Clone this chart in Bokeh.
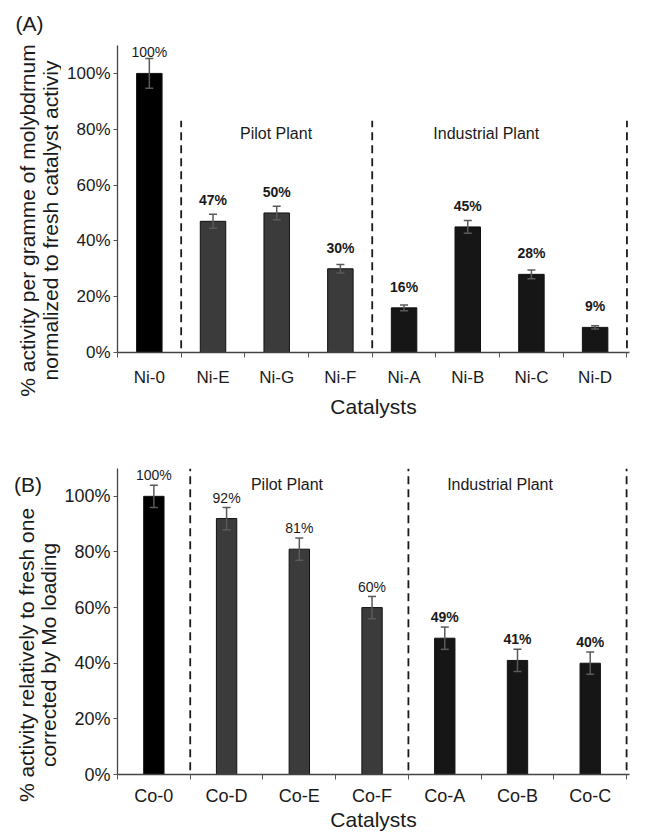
import math

from bokeh.plotting import figure
from bokeh.models import (Range1d, FixedTicker, Whisker, TeeHead,
                          ColumnDataSource, Label)
from bokeh.layouts import column, row
from bokeh.embed import file_html
from bokeh.resources import INLINE
from bokeh.core.properties import value

FONT = "Liberation Sans"
INK = "#1a1a1a"

# ---- (A) Ni catalysts: activity per gramme of Mo, relative to fresh ----
ni_names = ["Ni-0", "Ni-E", "Ni-G", "Ni-F", "Ni-A", "Ni-B", "Ni-C", "Ni-D"]
ni_activity = [100, 47, 50, 30, 16, 45, 28, 9]
ni_error = [5.3, 2.5, 2.4, 1.5, 1.0, 2.3, 1.6, 0.6]
ni_group = ["fresh", "pilot", "pilot", "pilot",
            "industrial", "industrial", "industrial", "industrial"]

# ---- (B) Co catalysts: activity corrected by Mo loading ----
co_names = ["Co-0", "Co-D", "Co-E", "Co-F", "Co-A", "Co-B", "Co-C"]
co_activity = [100, 92, 81, 60, 49, 41, 40]
co_error = [4, 4, 4, 4, 4, 4, 4]
co_group = ["fresh", "pilot", "pilot", "pilot",
            "industrial", "industrial", "industrial"]

pct_ticks = [0, 20, 40, 60, 80, 100]
pct_labels = ["0%", "20%", "40%", "60%", "80%", "100%"]

region_names = {"pilot": "Pilot Plant", "industrial": "Industrial Plant"}
group_colors = {"fresh": "#000000", "pilot": "#3b3b3b", "industrial": "#161616"}

Y_MAX = 110
X_PAD = 0.04     # small room past the last category so the end line shows
SIDE_W = 61      # strip on the left that holds the panel tags and y titles
TOTAL_W, TOTAL_H = 660, 833
H_A, H_B = 420, 413


def side_strip():
    """Label-only canvas for both panels; coordinates are page pixels."""
    s = figure(width=SIDE_W, height=TOTAL_H, output_backend="svg",
               toolbar_location=None, x_axis_location=None,
               y_axis_location=None, min_border=0,
               x_range=Range1d(0, SIDE_W), y_range=Range1d(TOTAL_H, 0))
    s.outline_line_color = None
    s.grid.visible = False

    def tag(text, x, y):
        s.add_layout(Label(x=x, y=y, text=text, text_font=FONT,
                           text_font_size="21px", text_color=INK,
                           text_align="center", text_baseline="middle"))

    def vtitle(text, x, y):
        s.add_layout(Label(x=x, y=y, text=text, angle=math.pi / 2,
                           text_font=FONT, text_font_size="21px",
                           text_color=INK, text_align="center",
                           text_baseline="middle"))

    tag("(A)", 29, 23)
    vtitle("% activity per gramme of molybdrnum", 27, 220)
    vtitle("normalized to fresh catalyst activiy", 50, 220)
    tag("(B)", 27.5, 484)
    vtitle("% activity relatively to fresh one", 25.5, 654.5)
    vtitle("corrected by Mo loading", 48, 654.5)
    return s


def bar_panel(names, vals, errs, groups, g):
    n = len(names)
    width = TOTAL_W - SIDE_W
    left = g["left"] - SIDE_W
    p = figure(width=width, height=g["height"], output_backend="svg",
               toolbar_location=None,
               x_range=Range1d(0, n + X_PAD), y_range=Range1d(0, Y_MAX),
               min_border_left=left, min_border_top=g["top"],
               min_border_right=max(width - left - g["fw"], 0),
               min_border_bottom=g["height"] - g["top"] - g["fh"])
    p.outline_line_color = None
    p.xgrid.visible = False
    p.ygrid.visible = False

    xs = [i + 0.5 for i in range(n)]
    src = ColumnDataSource(dict(
        x=xs, top=vals,
        upper=[v + e for v, e in zip(vals, errs)],
        lower=[v - e for v, e in zip(vals, errs)],
        color=[group_colors[gr] for gr in groups],
        label=[f"{v}%" for v in vals],
        style=["bold" if gr in g["bold_groups"] else "normal" for gr in groups],
    ))
    p.vbar(x="x", top="top", width=g["bar_w"], source=src,
           fill_color="color", line_color="#111111", line_width=1)

    whisker_color = "#5a5a5a"
    p.add_layout(Whisker(source=src, base="x", upper="upper", lower="lower",
                         line_color=whisker_color, line_width=1.5,
                         upper_head=TeeHead(size=8, line_color=whisker_color,
                                            line_width=1.5),
                         lower_head=TeeHead(size=8, line_color=whisker_color,
                                            line_width=1.5),
                         level="annotation"))

    # value labels sit a fixed distance above each bar
    p.text(x="x", y="top", text="label", source=src,
           text_font=value(FONT), text_font_size=value("14px"),
           text_font_style="style", text_color=INK,
           text_align="center", text_baseline="middle", y_offset=-21)

    # dashed separators between fresh / pilot / industrial groups
    bounds = [i for i in range(1, n) if groups[i] != groups[i - 1]] + [n]
    p.segment(x0=bounds, x1=bounds, y0=[1.5] * len(bounds),
              y1=[g["dash_top"]] * len(bounds),
              line_color=INK, line_width=1.8, line_dash="8 5")

    for key, (rx, ry) in g["region_pos"].items():
        p.add_layout(Label(x=rx, y=ry, text=region_names[key],
                           text_font=FONT, text_font_size="16px",
                           text_color=INK, text_align="center",
                           text_baseline="middle"))

    xa = p.xaxis[0]
    xa.ticker = FixedTicker(ticks=xs, minor_ticks=list(range(n + 1)))
    xa.major_label_overrides = {x: name for x, name in zip(xs, names)}
    xa.major_tick_out = 0
    xa.major_tick_in = 0
    xa.minor_tick_out = 5
    xa.minor_tick_in = 0
    xa.minor_tick_line_color = "#555555"
    xa.axis_line_color = "#444444"
    xa.axis_line_width = 1.3
    xa.major_label_text_font = FONT
    xa.major_label_text_font_size = g["tick_size"]
    xa.major_label_text_color = INK
    xa.major_label_standoff = g["x_standoff"]
    xa.axis_label = "Catalysts"
    xa.axis_label_text_font = FONT
    xa.axis_label_text_font_size = "21px"
    xa.axis_label_text_font_style = "normal"
    xa.axis_label_text_color = INK
    xa.axis_label_standoff = g["title_standoff"]

    ya = p.yaxis[0]
    ya.ticker = FixedTicker(ticks=pct_ticks, minor_ticks=[])
    ya.major_label_overrides = {t: s for t, s in zip(pct_ticks, pct_labels)}
    ya.major_tick_out = 4
    ya.major_tick_in = 0
    ya.major_tick_line_color = "#555555"
    ya.axis_line_color = "#444444"
    ya.axis_line_width = 1.3
    ya.major_label_text_font = FONT
    ya.major_label_text_font_size = g["tick_size"]
    ya.major_label_text_color = INK
    ya.major_label_standoff = 3
    return p


panel_a = bar_panel(ni_names, ni_activity, ni_error, ni_group, dict(
    height=H_A, left=113, top=45, fw=516, fh=317, bar_w=0.4,
    tick_size="17px", x_standoff=10, title_standoff=5, dash_top=83,
    bold_groups={"pilot", "industrial"},
    region_pos={"pilot": (2.49, 78.6), "industrial": (5.79, 78.6)},
))

panel_b = bar_panel(co_names, co_activity, co_error, co_group, dict(
    height=H_B, left=117, top=48, fw=543, fh=316, bar_w=0.28,
    tick_size="18px", x_standoff=6, title_standoff=-1, dash_top=110,
    bold_groups={"industrial"},
    region_pos={"pilot": (2.33, 104.3), "industrial": (5.26, 104.3)},
))

layout = row(side_strip(), column(panel_a, panel_b, spacing=0), spacing=0)
open("out.html", "w").write(file_html(layout, INLINE))
